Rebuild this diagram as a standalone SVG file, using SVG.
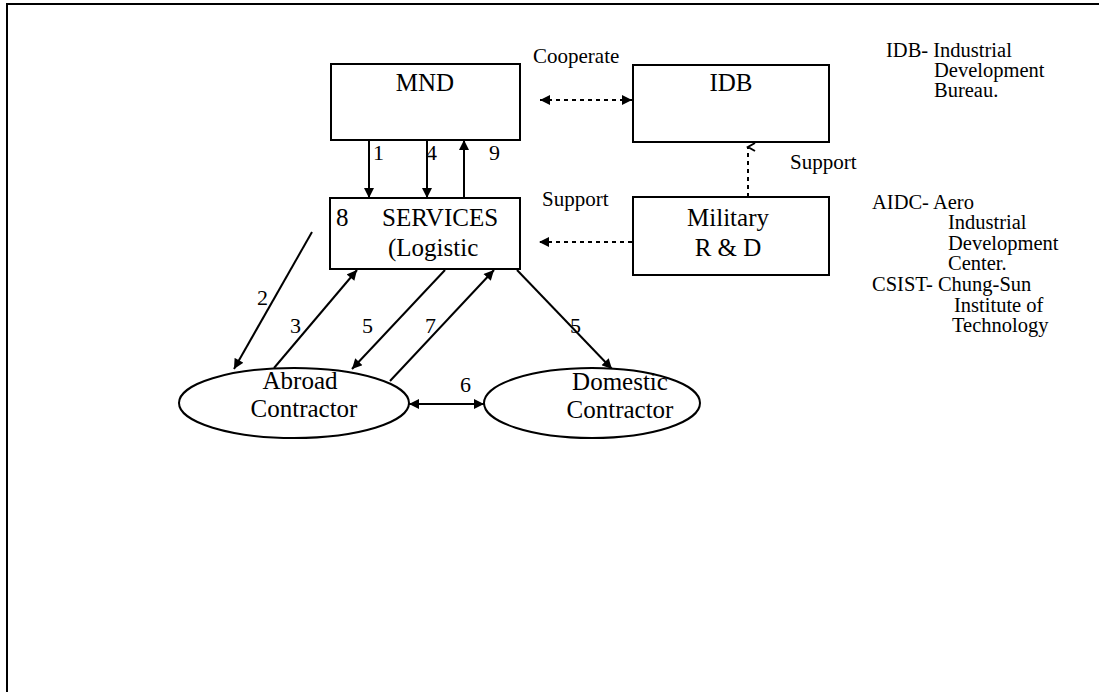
<svg xmlns="http://www.w3.org/2000/svg" width="1099" height="692" viewBox="0 0 1099 692">
<style>
text{font-family:"Liberation Serif","Times New Roman",serif;fill:#000}
.box{fill:#fff;stroke:#000;stroke-width:2}
.ln{stroke:#000;stroke-width:2;fill:none}
.dot{stroke:#000;stroke-width:2;fill:none;stroke-dasharray:4,4}
.t25{font-size:25px}
.t22{font-size:22px}
.t21{font-size:21px}
.lg{font-size:20.5px}
.mid{text-anchor:middle}
</style>
<defs>
<marker id="ah" viewBox="0 0 10 10" refX="10" refY="5" markerWidth="11" markerHeight="10" markerUnits="userSpaceOnUse" orient="auto-start-reverse">
<path d="M0,0 L10,5 L0,10 Z" fill="#000"/>
</marker>
<marker id="oh" viewBox="0 0 10 10" refX="5" refY="2" markerWidth="10" markerHeight="10" markerUnits="userSpaceOnUse" orient="auto">
<path d="M1,9 L5,2 L9,9" fill="none" stroke="#000" stroke-width="2"/>
</marker>
</defs>
<rect width="1099" height="692" fill="#fff"/>
<path d="M7,692 V4 H1099" class="ln" stroke-width="2.5"/>

<g id="connectors">
<line x1="369" y1="140" x2="369" y2="198" class="ln" marker-end="url(#ah)"/>
<line x1="427" y1="140" x2="427" y2="198" class="ln" marker-end="url(#ah)"/>
<line x1="464" y1="198" x2="464" y2="140" class="ln" marker-end="url(#ah)"/>
<line x1="540" y1="100" x2="632" y2="100" class="dot" marker-start="url(#ah)" marker-end="url(#ah)"/>
<line x1="632" y1="242" x2="539" y2="242" class="dot" marker-end="url(#ah)"/>
<line x1="748" y1="197" x2="748" y2="147" class="dot" marker-end="url(#oh)"/>
<line x1="312" y1="232" x2="234" y2="369" class="ln" marker-end="url(#ah)"/>
<line x1="274" y1="368" x2="357" y2="270" class="ln" marker-end="url(#ah)"/>
<line x1="445" y1="270" x2="352" y2="369" class="ln" marker-end="url(#ah)"/>
<line x1="390" y1="381" x2="494" y2="270" class="ln" marker-end="url(#ah)"/>
<line x1="517" y1="270" x2="612" y2="369" class="ln" marker-end="url(#ah)"/>
<line x1="409" y1="404" x2="484" y2="404" class="ln" marker-start="url(#ah)" marker-end="url(#ah)"/>
<text x="373" y="160" class="t22">1</text>
<text x="426" y="160" class="t22">4</text>
<text x="489" y="160" class="t22">9</text>
<text x="257" y="305" class="t22">2</text>
<text x="290" y="333" class="t22">3</text>
<text x="362" y="333" class="t22">5</text>
<text x="425" y="333" class="t22">7</text>
<text x="570" y="333" class="t22">5</text>
<text x="460" y="392" class="t22">6</text>
<text x="533" y="63" class="t21">Cooperate</text>
<text x="542" y="206" class="t21">Support</text>
<text x="790" y="169" class="t21">Support</text>
</g>

<g id="mnd">
<rect x="331" y="64" width="189" height="76" class="box"/>
<text x="425" y="91" class="t25 mid">MND</text>
</g>
<g id="idb">
<rect x="633" y="65" width="196" height="77" class="box"/>
<text x="731" y="91" class="t25 mid">IDB</text>
</g>
<g id="services">
<rect x="330" y="198" width="190" height="71" class="box" stroke-width="3"/>
<text x="336" y="226" class="t25">8</text>
<text x="382" y="226" class="t25">SERVICES</text>
<text x="388" y="256" class="t25">(Logistic</text>
</g>
<g id="military">
<rect x="633" y="197" width="196" height="78" class="box"/>
<text x="728" y="226" class="t25 mid">Military</text>
<text x="728" y="256" class="t25 mid">R &amp; D</text>
</g>
<g id="abroad">
<ellipse cx="294" cy="403" rx="115" ry="35" class="box"/>
<text x="300" y="389" class="t25 mid">Abroad</text>
<text x="304" y="417" class="t25 mid">Contractor</text>
</g>
<g id="domestic">
<ellipse cx="592" cy="403" rx="108" ry="35" class="box"/>
<text x="620" y="390" class="t25 mid">Domestic</text>
<text x="620" y="418" class="t25 mid">Contractor</text>
</g>
<g id="legend">
<text x="886" y="57" class="lg">IDB- Industrial</text>
<text x="934" y="77" class="lg">Development</text>
<text x="934" y="97" class="lg">Bureau.</text>
<text x="872" y="209" class="lg">AIDC- Aero</text>
<text x="948" y="229" class="lg">Industrial</text>
<text x="948" y="250" class="lg">Development</text>
<text x="948" y="270" class="lg">Center.</text>
<text x="872" y="291" class="lg">CSIST- Chung-Sun</text>
<text x="954" y="312" class="lg">Institute of</text>
<text x="952" y="332" class="lg">Technology</text>
</g>
</svg>
